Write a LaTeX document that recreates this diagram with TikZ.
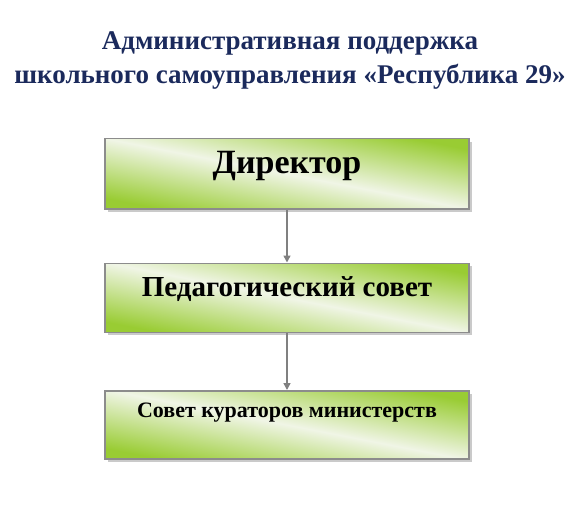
\documentclass[tikz,border=0pt]{standalone}
\usepackage{fontspec}
\setmainfont{Liberation Serif}
\usetikzlibrary{positioning,shadows,arrows.meta}

\definecolor{titleblue}{HTML}{1B2A5C}
\definecolor{boxgreen}{HTML}{99CC33}
\definecolor{boxpale}{HTML}{F0F5E6}
\definecolor{boxline}{HTML}{8C8C8C}
\pgfdeclarehorizontalshading{boxshade}{100bp}{color(0bp)=(boxgreen); color(25bp)=(boxgreen); color(50bp)=(boxpale); color(75bp)=(boxgreen); color(100bp)=(boxgreen)}

\begin{document}
\begin{tikzpicture}[x=1pt,y=1pt,node distance=55pt,
  box/.style={draw=boxline, line width=1.5pt, minimum width=364pt, inner sep=0pt,
    shading=boxshade, shading angle=79,
    drop shadow={shadow xshift=3pt, shadow yshift=-3pt, fill=gray!70, opacity=0.6}},
  link/.style={draw=gray, line width=1.5pt, -{Triangle[length=7pt,width=7pt]}}]
  \useasboundingbox (0,0) rectangle (580,-513);
  \node[titleblue, font=\fontsize{27}{34}\selectfont\bfseries, align=center] (title) at (290,-61)
    {Административная поддержка\\школьного самоуправления «Республика 29»};
  \node[box, font=\fontsize{34}{40}\selectfont\bfseries, text height=35pt, text depth=35pt, anchor=north] (dir) at (287,-138) {Директор};
  \node[box, font=\fontsize{29}{34}\selectfont\bfseries, text height=33pt, text depth=36pt, below=53pt of dir] (ped) {Педагогический совет};
  \node[box, font=\fontsize{22}{26}\selectfont\bfseries, text height=27pt, text depth=41pt, below=57pt of ped] (cur) {Совет кураторов министерств};

  \draw[link] (dir) -- (ped);
  \draw[link] (ped) -- (cur);
\end{tikzpicture}
\end{document}
